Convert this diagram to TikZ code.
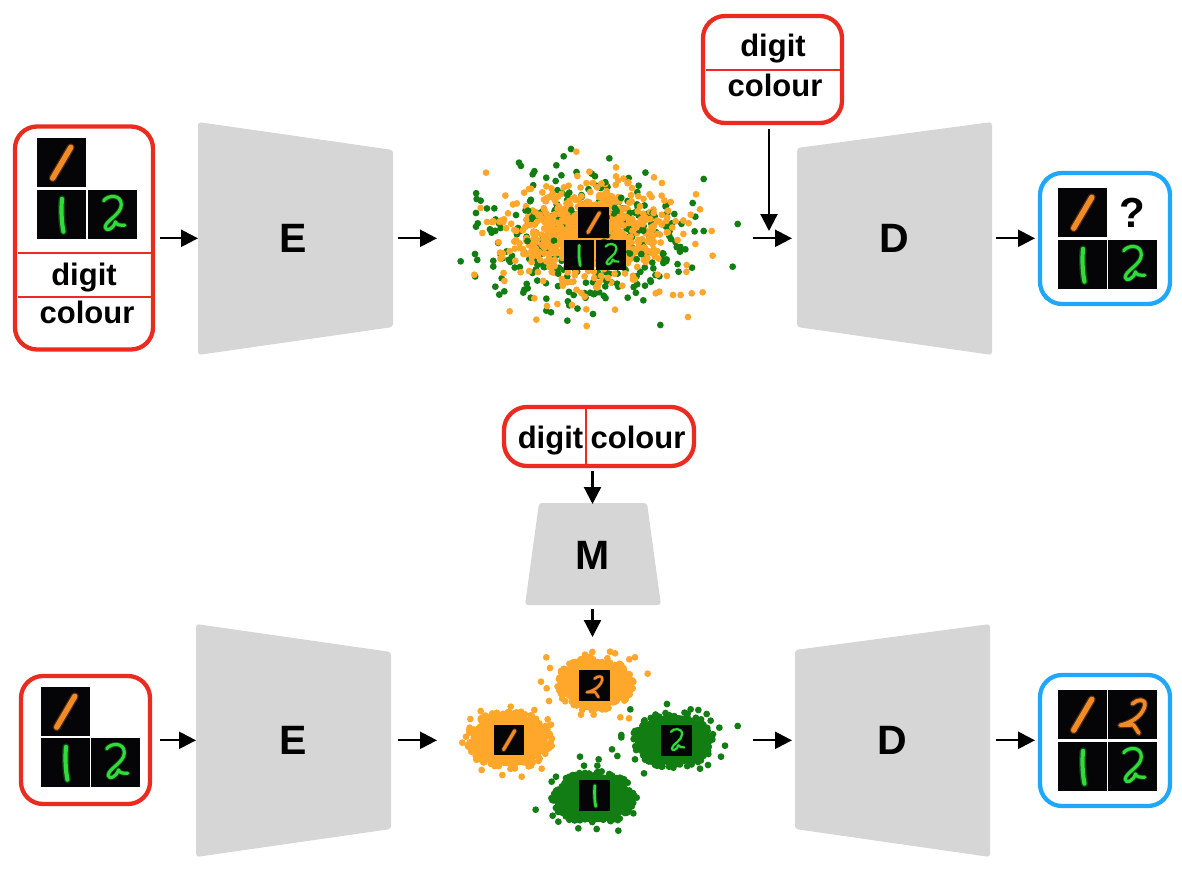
\documentclass[tikz,border=0pt]{standalone}
\usepackage{fontspec}
\setmainfont{Liberation Sans}
\definecolor{cred}{HTML}{E92B20}
\definecolor{cblue}{HTML}{1FA8FB}
\definecolor{cgray}{HTML}{D6D6D6}
\definecolor{dotorange}{HTML}{FFA72B}
\definecolor{dotgreen}{HTML}{117D12}
\definecolor{inkorange}{HTML}{F28A26}
\definecolor{inkgreen}{HTML}{30DC3A}
\definecolor{tileblack}{HTML}{050508}
\usetikzlibrary{arrows.meta}
\tikzset{
  x=1pt,y=-1pt,
  trapfill/.style={fill=cgray,rounded corners=3pt},
  trapbox/.style={inner sep=0pt,outer sep=0pt,font=\fontsize{41}{44}\selectfont\bfseries},
  redbox/.style={draw=cred,line width=4.3pt,rounded corners=22pt,inner sep=0pt,outer sep=0pt},
  bluebox/.style={draw=cblue,line width=4.3pt,rounded corners=22pt,inner sep=0pt,outer sep=0pt},
  redbar/.style={draw=cred,line width=2.4pt},
  label/.style={inner sep=0pt,anchor=base,font=\fontsize{31}{34}\selectfont\bfseries},
  region/.style={inner sep=0pt,outer sep=0pt},
  arr/.style={-{Triangle[length=17pt,width=17pt]},line width=2.3pt,black},
}
\newcommand{\digone}[4]{%
  \draw[#4,opacity=.28,line width=.14*#3 pt,line cap=round] ({#1+.51*#3},{#2+.18*#3}) .. controls ({#1+.49*#3},{#2+.4*#3}) and ({#1+.5*#3},{#2+.65*#3}) .. ({#1+.54*#3},{#2+.85*#3});
  \draw[#4,line width=.085*#3 pt,line cap=round] ({#1+.51*#3},{#2+.18*#3}) .. controls ({#1+.49*#3},{#2+.4*#3}) and ({#1+.5*#3},{#2+.65*#3}) .. ({#1+.54*#3},{#2+.85*#3});
}
\newcommand{\digslash}[4]{%
  \draw[#4,opacity=.3,line width=.16*#3 pt,line cap=round] ({#1+.69*#3},{#2+.19*#3}) -- ({#1+.32*#3},{#2+.82*#3});
  \draw[#4,line width=.11*#3 pt,line cap=round] ({#1+.69*#3},{#2+.19*#3}) -- ({#1+.32*#3},{#2+.82*#3});
}
\newcommand{\pathtwo}[3]{({#1+.32*#3},{#2+.22*#3}) .. controls ({#1+.4*#3},{#2+.1*#3}) and ({#1+.68*#3},{#2+.08*#3}) .. ({#1+.68*#3},{#2+.3*#3}) .. controls ({#1+.68*#3},{#2+.5*#3}) and ({#1+.36*#3},{#2+.62*#3}) .. ({#1+.35*#3},{#2+.76*#3}) .. controls ({#1+.36*#3},{#2+.86*#3}) and ({#1+.52*#3},{#2+.8*#3}) .. ({#1+.56*#3},{#2+.65*#3}) .. controls ({#1+.58*#3},{#2+.72*#3}) and ({#1+.66*#3},{#2+.72*#3}) .. ({#1+.75*#3},{#2+.72*#3})}
\newcommand{\digtwo}[4]{%
  \draw[#4,opacity=.28,line width=.1*#3 pt,line cap=round,line join=round] \pathtwo{#1}{#2}{#3};
  \draw[#4,line width=.065*#3 pt,line cap=round,line join=round] \pathtwo{#1}{#2}{#3};
}
\newcommand{\pathtwoB}[3]{({#1+.5*#3},{#2+.28*#3}) .. controls ({#1+.6*#3},{#2+.18*#3}) and ({#1+.78*#3},{#2+.17*#3}) .. ({#1+.75*#3},{#2+.32*#3}) .. controls ({#1+.72*#3},{#2+.46*#3}) and ({#1+.58*#3},{#2+.64*#3}) .. ({#1+.25*#3},{#2+.72*#3}) -- ({#1+.52*#3},{#2+.71*#3}) -- ({#1+.63*#3},{#2+.88*#3})}
\newcommand{\digtwoB}[4]{%
  \draw[#4,opacity=.3,line width=.12*#3 pt,line cap=round,line join=round] \pathtwoB{#1}{#2}{#3};
  \draw[#4,line width=.075*#3 pt,line cap=round,line join=round] \pathtwoB{#1}{#2}{#3};
}
\newcommand{\tileO}[3]{\fill[tileblack] (#1,#2) rectangle ++(#3,#3); \digslash{#1}{#2}{#3}{inkorange}}
\newcommand{\tileG}[3]{\fill[tileblack] (#1,#2) rectangle ++(#3,#3); \digone{#1}{#2}{#3}{inkgreen}}
\newcommand{\tileT}[3]{\fill[tileblack] (#1,#2) rectangle ++(#3,#3); \digtwo{#1}{#2}{#3}{inkgreen}}
\newcommand{\tileR}[3]{\fill[tileblack] (#1,#2) rectangle ++(#3,#3); \digtwoB{#1}{#2}{#3}{inkorange}}
\newcommand{\dotlist}[4]{\foreach \px/\py in {#4} {\fill[#3] ({#1+\px/3},{#2+\py/3}) circle (3.4pt);}}
\newcommand{\cloud}[6]{%
  \foreach \i in {1,...,#1} {
    \pgfmathsetmacro{\qx}{#2+#4*(rand+rand+rand)}
    \pgfmathsetmacro{\qy}{#3+#5*(rand+rand+rand)}
    \fill[#6] (\qx,\qy) circle (3.4pt);
  }}
\newcommand{\blob}[6]{%
  \fill[#6] (#2,#3) ellipse [x radius={0.9*#4},y radius={0.9*#5}];
  \foreach \i in {1,...,#1} {
    \pgfmathsetmacro{\qa}{360*rnd}
    \pgfmathsetmacro{\qr}{0.8+0.22*rnd}
    \pgfmathsetmacro{\qx}{#2+#4*\qr*cos(\qa)}
    \pgfmathsetmacro{\qy}{#3+#5*\qr*sin(\qa)}
    \fill[#6] (\qx,\qy) circle (3.4pt);
  }}
\begin{document}
\begin{tikzpicture}
\useasboundingbox (0,0) rectangle (1182,880);
\pgfmathsetseed{4711}
% ---------- trapezoids
\fill[trapfill] (198,122) -- (393,150) -- (393,327) -- (198,355) -- cycle;
\fill[trapfill] (797,148) -- (992,122) -- (992,355) -- (797,327) -- cycle;
\fill[trapfill] (196,624) -- (391,652) -- (391,829) -- (196,857) -- cycle;
\fill[trapfill] (795,650) -- (990,624) -- (990,857) -- (795,829) -- cycle;
\fill[trapfill] (539,503) -- (647,503) -- (661,605) -- (525,605) -- cycle;
\node[trapbox,minimum width=195pt,minimum height=233pt] (E1) at (295.5,238.5) {\hspace*{-5pt}E};
\node[trapbox,minimum width=195pt,minimum height=233pt] (D1) at (894.5,238.5) {D};
\node[trapbox,minimum width=195pt,minimum height=233pt] (E2) at (293.5,740.5) {E};
\node[trapbox,minimum width=195pt,minimum height=233pt] (D2) at (892.5,740.5) {D};
\node[trapbox,minimum width=136pt,minimum height=102pt] (M) at (593,555) {M};
% ---------- boxes
\node[redbox,minimum width=138pt,minimum height=223pt] (in1) at (84,238) {};
\node[redbox,minimum width=139pt,minimum height=107pt] (dc1) at (772.5,69.5) {};
\node[bluebox,minimum width=130pt,minimum height=131pt] (out1) at (1105,238.5) {};
\node[redbox,minimum width=129pt,minimum height=128pt] (in2) at (85.5,740) {};
\node[bluebox,minimum width=130pt,minimum height=131pt] (out2) at (1105,740.5) {};
\node[redbox,rounded corners=23pt,minimum width=190pt,minimum height=59pt] (dc2) at (599,436.5) {};
% ---------- dividers
\draw[redbar] (18,253) -- (151,253);
\draw[redbar] (18,297) -- (151,297);
\draw[redbar] (706,70.3) -- (840,70.3);
\draw[redbar] (585.7,409) -- (585.7,464);
% ---------- labels
\node[label] (t1) at (84,285) {digit};
\node[label] (t2) at (87,323) {colour};
\node[label] (t3) at (773,57) {digit};
\node[label] (t4) at (775,97) {colour};
\node[label] (t5) at (550.5,448) {digit};
\node[label] (t6) at (638,448) {colour};
\node[inner sep=0pt,font=\fontsize{42}{44}\selectfont\bfseries] (q) at (1132,213) {?};
% ---------- tiles of boxes
\tileO{37}{138}{49}
\tileG{37}{190}{49}
\tileT{88}{190}{49}
\tileO{1058}{188}{49}
\tileG{1058}{240}{49}
\tileT{1108}{240}{49}
\tileO{41}{687}{49}
\tileG{41}{738}{49}
\tileT{91}{738}{49}
\tileO{1058}{690}{49}
\tileR{1108}{690}{49}
\tileG{1058}{742}{49}
\tileT{1108}{742}{49}
% ---------- top scatter
\dotlist{440}{130}{dotgreen}{393/57,371/79,349/106,237/98,278/133,508/85,566/144,596/167,791/147,347/153,110/207,122/212,108/249,163/235,108/290,150/298,155/308,62/394,105/372,187/385,893/282,791/303,878/410,756/413,736/358,720/365,758/219,766/260,703/252,678/225,166/470,193/484,253/479,272/503,319/506,319/542,333/547,382/572,459/552,563/503,610/511,661/585,615/467,631/451,640/415,678/394,401/495,465/490,535/470,185/445}
\cloud{360}{590}{238}{44}{27}{dotgreen}
\cloud{650}{587}{234}{38}{22}{dotorange}
\cloud{40}{592}{242}{40}{25}{dotgreen}
\cloud{120}{585}{232}{36}{20}{dotorange}
\dotlist{440}{130}{dotorange}{409/65,138/128,528/112,528/139,448/125,642/142,412/138,319/169,267/177,122/234,141/276,127/309,103/434,193/453,209/544,289/569,283/505,321/528,352/522,396/525,439/538,440/588,525/539,434/500,744/561,788/487,755/490,722/495,699/495,658/485,647/490,653/434,740/405,818/377,815/303,766/342,730/312,752/254,780/238,768/193,692/216,665/197,684/242}
\tileO{578}{207}{31}
\tileG{564}{240}{30}
\tileT{596}{240}{30}
% ---------- bottom scatter
\blob{120}{595}{684}{38}{27}{dotorange}
\blob{120}{509}{740}{43}{29}{dotorange}
\blob{120}{673}{740}{40}{28}{dotgreen}
\blob{120}{594}{798}{42}{27}{dotgreen}
\dotlist{440}{630}{dotorange}{319/82,330/114,303/155,320/175,327/213,423/254,461/254,541/262,567/265,623/131,585/82,568/88,525/70,510/65,457/66,435/74,580/155,578/175,122/243,91/267,78/320,67/338,125/420,187/435,245/440,305/416,333/284,323/268,283/240,212/230}
\dotlist{440}{630}{dotgreen}{571/238,681/222,893/288,544/315,544/322,516/358,532/378,585/388,612/430,780/416,804/405,843/380,855/347,838/293,812/272,800/252,775/240,752/238,420/380,476/388,472/407,432/407,287/539,535/602,470/597,415/595,355/575,338/557,590/503,580/550,335/455,348/440}
\tileR{579}{670}{31}
\tileO{494}{725}{30}
\tileT{661}{725}{31}
\tileG{579}{780}{31}
% ---------- connector targets
\node[region,minimum width=316pt,minimum height=200pt] (scat1) at (595,238.3) {};
\node[region,minimum width=316pt,minimum height=200pt] (scat2) at (595,740.3) {};
\coordinate (join1) at (769,231);
\coordinate (clusters) at (592.5,637);
% ---------- arrows
\draw[arr,shorten <=7pt] (in1.east |- scat1.west) -- (E1.west |- scat1.west);
\draw[arr,shorten <=5pt] (E1.east |- scat1.west) -- (scat1.west);
\draw[arr,shorten >=5pt] (scat1.east) -- (D1.west |- scat1.east);
\draw[arr,shorten <=4pt,shorten >=5pt] (D1.east |- scat1.east) -- (out1.west |- scat1.east);
\draw[arr,shorten <=6pt] (dc1.south -| join1) -- (join1);
\draw[arr,shorten <=10pt] (in2.east |- scat2.west) -- (E2.west |- scat2.west);
\draw[arr,shorten <=7pt] (E2.east |- scat2.west) -- (scat2.west);
\draw[arr,shorten >=3pt] (scat2.east) -- (D2.west |- scat2.east);
\draw[arr,shorten <=6pt,shorten >=5pt] (D2.east |- scat2.east) -- (out2.west |- scat2.east);
\draw[arr,shorten <=5pt] (dc2.south -| clusters) -- (M.north -| clusters);
\draw[arr,shorten <=3pt] (M.south -| clusters) -- (clusters);
\end{tikzpicture}
\end{document}
